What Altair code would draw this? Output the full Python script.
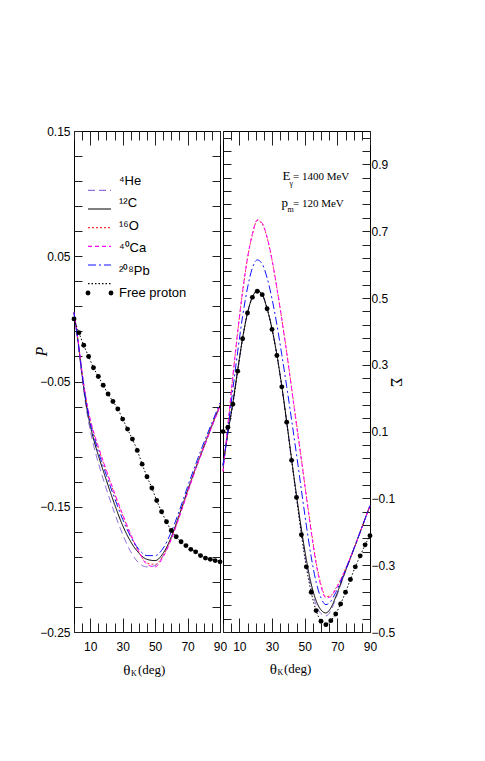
import altair as alt
import pandas as pd

# ---------------- data ----------------
series = ["⁴He", "¹²C", "¹⁶O", "⁴⁰Ca", "²⁰⁸Pb", "Free proton"]
colors = ["#9370db", "#000000", "#ff3030", "#ff00ff", "#1010ff", "#000000"]
dashes = [[7, 4], [1, 0], [2, 2], [4, 3], [8, 3, 2, 3], [1.5, 2]]

theta_nuc_left = [0, 2.5, 5, 7.5, 10, 12.5, 15, 20, 25, 30, 35, 40, 45, 50, 55, 60, 65, 70, 75, 80, 85, 90]
P_He = [0.005, -0.019, -0.047, -0.071, -0.089, -0.103, -0.115, -0.136, -0.155, -0.172, -0.186, -0.195, -0.198, -0.197, -0.189, -0.175, -0.157, -0.138, -0.120, -0.103, -0.086, -0.070]
P_C = [0.005, -0.018, -0.045, -0.068, -0.085, -0.098, -0.109, -0.129, -0.148, -0.165, -0.178, -0.187, -0.192, -0.193, -0.187, -0.174, -0.156, -0.137, -0.119, -0.102, -0.085, -0.069]
P_O = [0.005, -0.017, -0.043, -0.065, -0.081, -0.093, -0.103, -0.122, -0.140, -0.157, -0.173, -0.186, -0.195, -0.196, -0.189, -0.175, -0.157, -0.138, -0.119, -0.102, -0.085, -0.069]
P_Ca = [0.005, -0.017, -0.043, -0.064, -0.080, -0.092, -0.102, -0.121, -0.139, -0.156, -0.172, -0.186, -0.196, -0.198, -0.190, -0.176, -0.158, -0.139, -0.120, -0.103, -0.086, -0.070]
P_Pb = [0.005, -0.018, -0.044, -0.066, -0.083, -0.095, -0.106, -0.125, -0.143, -0.160, -0.174, -0.184, -0.189, -0.189, -0.183, -0.170, -0.153, -0.134, -0.116, -0.099, -0.083, -0.067]

theta_fp = [0, 3, 6, 9, 12, 15, 18, 21, 24, 27, 30, 33, 36, 39, 42, 45, 48, 51, 54, 57, 60, 63, 66, 69, 72, 75, 78, 81, 84, 87, 90]
P_free = [0.000, -0.011, -0.021, -0.030, -0.039, -0.046, -0.053, -0.060, -0.066, -0.072, -0.080, -0.088, -0.096, -0.105, -0.116, -0.126, -0.135, -0.145, -0.154, -0.162, -0.169, -0.174, -0.178, -0.181, -0.184, -0.186, -0.189, -0.191, -0.192, -0.193, -0.194]

theta_nuc_right = theta_fp
S_He = [0.000, 0.094, 0.183, 0.283, 0.379, 0.455, 0.504, 0.523, 0.512, 0.470, 0.409, 0.330, 0.235, 0.128, 0.014, -0.096, -0.200, -0.292, -0.367, -0.418, -0.445, -0.452, -0.436, -0.401, -0.360, -0.319, -0.280, -0.241, -0.201, -0.161, -0.121]
S_C = [0.000, 0.095, 0.185, 0.285, 0.380, 0.455, 0.503, 0.521, 0.510, 0.468, 0.408, 0.330, 0.236, 0.130, 0.018, -0.090, -0.192, -0.282, -0.356, -0.406, -0.434, -0.443, -0.428, -0.395, -0.356, -0.317, -0.279, -0.240, -0.201, -0.161, -0.122]
S_O = [-0.018, 0.118, 0.262, 0.397, 0.518, 0.618, 0.690, 0.732, 0.722, 0.680, 0.614, 0.530, 0.437, 0.338, 0.231, 0.124, 0.018, -0.090, -0.195, -0.290, -0.358, -0.394, -0.391, -0.370, -0.343, -0.311, -0.276, -0.239, -0.200, -0.161, -0.122]
S_Ca = [-0.020, 0.120, 0.265, 0.400, 0.520, 0.620, 0.692, 0.734, 0.724, 0.682, 0.615, 0.530, 0.436, 0.336, 0.228, 0.120, 0.015, -0.095, -0.200, -0.295, -0.363, -0.398, -0.394, -0.372, -0.345, -0.312, -0.277, -0.240, -0.201, -0.161, -0.122]
S_Pb = [-0.005, 0.105, 0.225, 0.340, 0.445, 0.530, 0.590, 0.614, 0.602, 0.560, 0.498, 0.420, 0.330, 0.235, 0.135, 0.032, -0.075, -0.180, -0.275, -0.350, -0.398, -0.418, -0.408, -0.382, -0.350, -0.314, -0.277, -0.239, -0.200, -0.161, -0.122]
S_free = [0.100, 0.113, 0.182, 0.281, 0.378, 0.455, 0.502, 0.520, 0.510, 0.468, 0.406, 0.328, 0.234, 0.128, 0.014, -0.097, -0.209, -0.305, -0.381, -0.436, -0.468, -0.478, -0.466, -0.446, -0.416, -0.381, -0.343, -0.305, -0.272, -0.239, -0.212]

x_label_values = [10, 30, 50, 70, 90]
x_minor_ticks = [0, 5, 10, 15, 20, 25, 30, 35, 40, 45, 50, 55, 60, 65, 70, 75, 80, 85, 90]
P_label_values = [-0.25, -0.15, -0.05, 0.05, 0.15]
P_ticks = [round(-0.25 + 0.02 * i, 2) for i in range(21)]
S_label_values = [-0.5, -0.3, -0.1, 0.1, 0.3, 0.5, 0.7, 0.9]
S_ticks = [round(-0.5 + 0.04 * i, 2) for i in range(38)]

# ---------------- style ----------------
W_L, W_R, H = 146, 147, 501
SANS = "Liberation Sans Narrow, Liberation Sans, Arial, sans-serif"
SERIF = "Liberation Serif, Times New Roman, serif"
TICK = "#222222"


def long_df(theta, vals, name):
    return pd.DataFrame({"theta": theta, "val": vals, "series": name})


left_df = pd.concat([
    long_df(theta_nuc_left, P_He, series[0]),
    long_df(theta_nuc_left, P_C, series[1]),
    long_df(theta_nuc_left, P_O, series[2]),
    long_df(theta_nuc_left, P_Ca, series[3]),
    long_df(theta_nuc_left, P_Pb, series[4]),
    long_df(theta_fp, P_free, series[5]),
])
left_fp = long_df(theta_fp, P_free, series[5])

right_df = pd.concat([
    long_df(theta_nuc_right, S_He, series[0]),
    long_df(theta_nuc_right, S_C, series[1]),
    long_df(theta_nuc_right, S_O, series[2]),
    long_df(theta_nuc_right, S_Ca, series[3]),
    long_df(theta_nuc_right, S_Pb, series[4]),
    long_df(theta_fp, S_free, series[5]),
])
right_fp = long_df(theta_fp, S_free, series[5])

legend_df = pd.DataFrame({"series": series})
one = pd.DataFrame({"a": [0]})

color_scale = alt.Scale(domain=series, range=colors)
dash_scale = alt.Scale(domain=series, range=dashes)


def tick_axis(orient, offset, values, size):
    return alt.Axis(orient=orient, offset=offset, values=values, tickSize=size,
                    labels=False, domain=False, grid=False, title=None,
                    tickColor=TICK, tickWidth=1)


def txt(text, x, y, size, font=SERIF, align="left", style="normal"):
    return alt.Chart(one).mark_text(
        text=text, font=font, fontSize=size, align=align, baseline="middle",
        fontStyle=style, color="black"
    ).encode(x=alt.value(x), y=alt.value(y))


def legend_layers():
    ly = alt.Y("series:N", scale=alt.Scale(domain=series, range=[50, 162], padding=0), axis=None)
    rules = alt.Chart(legend_df).mark_rule(strokeWidth=1.1).encode(
        x=alt.value(14), x2=alt.value(37), y=ly,
        color=alt.Color("series:N", scale=color_scale, legend=None),
        strokeDash=alt.StrokeDash("series:N", scale=dash_scale, legend=None),
    )
    labels = alt.Chart(legend_df).mark_text(
        align="left", baseline="middle", font=SANS, fontSize=13, color="black"
    ).encode(x=alt.value(45), y=ly, text="series:N")
    fp_only = alt.datum.series == "Free proton"
    dot1 = alt.Chart(legend_df).transform_filter(fp_only).mark_point(
        filled=True, size=24, color="black", opacity=1).encode(x=alt.value(14), y=ly)
    dot2 = alt.Chart(legend_df).transform_filter(fp_only).mark_point(
        filled=True, size=24, color="black", opacity=1).encode(x=alt.value(37), y=ly)
    return [rules, labels, dot1, dot2]


def panel(df, fp, ydom, ylabels, yfmt, yticks, W, side, lab_pad, ytitle, title_x, title_y,
          title_angle, title_style, extra):
    xs = alt.Scale(domain=[0, 90], nice=False, zero=False)
    ys = alt.Scale(domain=ydom, nice=False, zero=False)

    x_lab = alt.Axis(orient="bottom", values=x_label_values, format="d", ticks=False,
                     tickSize=0, domain=False, grid=False, title=None, labelPadding=9,
                     labelFont=SANS, labelFontSize=12, labelColor="black",
                     labelFlush=False, labelOverlap=False)
    y_lab = alt.Axis(orient=side, values=ylabels, format=yfmt, ticks=False, tickSize=0,
                     domain=False, grid=False, labelPadding=lab_pad, labelFont=SANS,
                     labelFontSize=12, labelColor="black", labelFlush=False,
                     labelOverlap=False, title=ytitle, titleFont=SERIF,
                     titleFontSize=16, titleFontWeight="normal",
                     titleFontStyle=title_style, titleX=title_x, titleY=title_y,
                     titleAngle=title_angle, titleAlign="center",
                     titleBaseline="bottom", titleColor="black")

    lines = alt.Chart(df).mark_line(strokeWidth=1, interpolate="monotone").encode(
        x=alt.X("theta:Q", scale=xs, axis=x_lab),
        y=alt.Y("val:Q", scale=ys, axis=y_lab),
        color=alt.Color("series:N", scale=color_scale, legend=None),
        strokeDash=alt.StrokeDash("series:N", scale=dash_scale, legend=None),
        detail="series:N",
    )
    pts = alt.Chart(fp).mark_point(filled=True, size=24, color="black", opacity=1).encode(
        x=alt.X("theta:Q", scale=xs, axis=None),
        y=alt.Y("val:Q", scale=ys, axis=None),
    )

    def dummy(xax, yax):
        return alt.Chart(fp).mark_point(opacity=0).encode(
            x=alt.X("theta:Q", scale=xs, axis=xax),
            y=alt.Y("val:Q", scale=ys, axis=yax),
        )

    dA = dummy(tick_axis("top", -H, x_minor_ticks, 9), tick_axis("right", -W, yticks, 8))
    dB = dummy(tick_axis("bottom", -H, x_minor_ticks, 9), tick_axis("left", -W, yticks, 8))
    dC = dummy(tick_axis("top", -H, x_label_values, 14), None)
    dD = dummy(tick_axis("bottom", -H, x_label_values, 14), None)

    return alt.layer(lines, pts, dA, dB, dC, dD, *extra).resolve_scale(
        y="independent"
    ).resolve_axis(
        x="independent", y="independent"
    ).properties(width=W, height=H)


left_extra = [
    txt("θ", 56.5, 539, 15, align="right"),
    txt("K", 57, 543, 8),
    txt("(deg)", 64, 539, 13),
] + legend_layers()

right_extra = [
    txt("θ", 54, 538, 15, align="right"),
    txt("K", 54.5, 542, 8),
    txt("(deg)", 61, 538, 13),
    txt("E", 59.5, 45, 13),
    txt("γ", 66.5, 53, 8),
    txt("= 1400 MeV", 70, 46, 11),
    txt("p", 58.5, 72, 13),
    txt("m", 64.5, 79, 8),
    txt("= 120 MeV", 70, 73, 11),
]

left = panel(left_df, left_fp, [-0.25, 0.15], P_label_values, ".2f", P_ticks, W_L, "left", 4,
             "P", -25, 220, 270, "italic", left_extra)
right = panel(right_df, right_fp, [-0.5, 1.0], S_label_values, ".1f", S_ticks, W_R, "right", 1,
              "Σ", 17, 251, 90, "normal", right_extra)

chart = alt.hconcat(left, right, spacing=3, bounds="flush").resolve_scale(
    color="independent", strokeDash="independent"
).properties(
    padding={"left": 24, "top": 116, "right": 5, "bottom": 5}
).configure_view(stroke="black", strokeWidth=1)

chart.save("out.html", embed_options={"renderer": "svg", "actions": False})
